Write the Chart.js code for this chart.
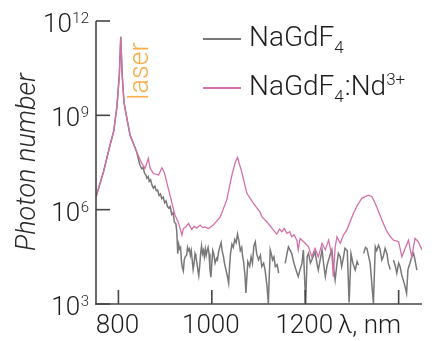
<!DOCTYPE html>
<html>
<head>
<meta charset="utf-8">
<script src="https://cdn.jsdelivr.net/npm/chart.js@4.4.0/dist/chart.umd.min.js"></script>
<style>
  html, body { margin: 0; padding: 0; background: #fff; }
  #wrap { width: 436px; height: 341px; position: relative; }
</style>
</head>
<body>
<div id="wrap"><canvas id="chart"></canvas></div>
<script>
// wavelength (nm) and log10(photon number)
const pinkNm = [752, 768, 782, 790, 797, 802, 805, 808, 812, 820, 825, 839, 850, 857, 864, 868, 875, 886, 893, 898,
  905, 914, 921, 928, 936, 939, 944, 950, 957, 962, 968, 975, 980, 985, 993, 1003, 1018, 1032, 1043, 1050, 1055, 1060, 1064,
  1075, 1089, 1103, 1107, 1118, 1125, 1132, 1139, 1145, 1150, 1155, 1161, 1167, 1171, 1176, 1182, 1185, 1189, 1193, 1200, 1207, 1214, 1221, 1228, 1236, 1243,
  1250, 1257, 1260, 1264, 1268, 1275, 1282, 1289, 1303, 1312, 1321, 1335, 1343, 1353, 1364, 1375, 1382, 1389, 1400, 1407,
  1414, 1421, 1428, 1435, 1442, 1450];
const pinkLog = [6.41, 7.2, 8.05, 8.5, 9.3, 10.3, 11.5, 10.3, 9.4, 8.75, 8.37, 7.84, 7.47, 7.31, 7.63, 7.31, 7.15, 7.1, 7.33, 7.2,
  6.78, 6.25, 5.83, 5.61, 5.19, 5.4, 5.45, 5.56, 5.37, 5.47, 5.42, 5.51, 5.43, 5.45, 5.4, 5.51, 5.77, 6.31, 7.1, 7.5, 7.66, 7.4, 7.2,
  6.52, 6.2, 5.93, 5.78, 5.61, 5.48, 5.35, 5.22, 5.38, 5.3, 5.4, 5.25, 5.3, 5.14, 5.2, 5.03, 4.72, 5.08, 5.03, 4.93, 4.82, 4.5, 4.77, 4.5, 4.93, 4.72,
  5.03, 4.55, 3.87, 4.8, 5.14, 4.93, 5.2, 5.35, 5.88, 6.15, 6.36, 6.46, 6.41, 6.09, 5.67, 5.3, 5.14, 5.03, 4.98, 4.5,
  4.77, 5.03, 4.5, 5.09, 4.98, 4.72];

const grayNm = [752, 768, 782, 790, 797, 802, 805, 808, 812, 820, 825, 839, 846, 850, 853, 856, 859, 861, 864, 866,
  869, 872, 875, 878, 881, 884, 887, 890, 893, 896, 899, 902, 905, 908, 911, 914, 917, 920, 923, 925,
  927, 929, 931, 933, 935, 937, 939, 941, 943, 946, 948, 950, 952, 954, 956, 958, 960, 962, 964, 966,
  968, 970, 972, 974, 976, 978, 980, 982, 984, 986, 988, 990, 992, 994, 996, 998, 1000, 1002, 1004, 1007,
  1010, 1012, 1015, 1018, 1020, 1022, 1025, 1027, 1030, 1033, 1036, 1038, 1040, 1043, 1046, 1049, 1052, 1055, 1058, 1061,
  1064, 1066, 1068, 1071, 1073, 1077, 1081, 1084, 1087, 1090, 1093, 1096, 1100, 1104, 1107, 1111, 1114, 1118, 1121, 1125,
  1128, 1130, 1133, 1136, 1140, 1143, 1150, 1157, 1161, 1164, 1168, 1171, 1175, 1178, 1182, 1185, 1189, 1193, 1196, 1201,
  1204, 1207, 1211, 1214, 1218, 1221, 1225, 1228, 1232, 1236, 1240, 1243, 1247, 1250, 1254, 1257, 1261, 1264, 1268, 1271,
  1275, 1278, 1282, 1285, 1290, 1294, 1298, 1302, 1307, 1311, 1314, 1318, 1325, 1329, 1332, 1336, 1339, 1346,
  1350, 1353, 1357, 1360, 1364, 1367, 1371, 1375, 1378, 1382, 1386, 1389, 1393, 1396, 1400, 1403, 1407, 1410, 1413, 1417,
  1420, 1424, 1428, 1432, 1435, 1439];
const grayLog = [6.41, 7.2, 8.05, 8.5, 9.3, 10.3, 11.5, 10.3, 9.4, 8.75, 8.37, 7.84, 7.42, 7.3, 7.35, 7.15, 7.1, 7.0, 7.05, 6.9,
  6.95, 6.78, 6.68, 6.75, 6.6, 6.62, 6.45, 6.5, 6.35, 6.4, 6.22, 6.28, 6.1, 6.05, 6.1, 5.85, 5.9, 5.6, 5.55, 5.3,
  4.6, 4.9, 4.75, 4.8, 4.35, 4.15, 4.05, 4.4, 4.5, 4.55, 4.8, 4.7, 4.75, 4.55, 4.7, 4.4, 4.1, 4.3, 4.6, 4.5,
  4.3, 4.1, 3.9, 4.2, 4.6, 4.85, 4.6, 4.7, 4.5, 4.75, 4.55, 4.7, 4.8, 4.6, 4.1, 3.85, 4.3, 4.7, 4.6, 4.3,
  4.45, 4.4, 4.7, 4.85, 4.95, 4.7, 4.5, 4.3, 4.1, 3.9, 3.66, 4.2, 4.6, 4.9, 4.8, 5.05, 4.95, 5.22, 5.0, 4.7,
  4.8, 4.5, 4.35, 3.9, 3.35, 4.35, 4.2, 4.5, 4.3, 4.85, 4.98, 4.6, 4.4, 4.55, 4.19, 4.3, 4.08, 3.6, 3.02, 4.72,
  4.55, 4.4, 4.5, 4.19, 4.25, 3.98, null, 4.29, 4.6, 4.82, 4.7, 4.61, 4.35, 4.19, 4.0, 3.87, 4.1, 4.29, 4.72, 3.02,
  4.5, 4.61, 4.3, 4.4, 4.55, 4.66, 4.3, 4.08, 4.4, 4.72, 4.2, 3.87, 4.25, 4.4, 4.6, 4.72, 4.1, 3.76, 4.3, 4.61,
  4.5, 4.19, 4.5, 4.77, 4.7, 3.05, 4.6, 4.3, 4.08, 4.35, 4.24, null, 4.61, 4.8, 4.77, 4.5, 4.29, 3.02,
  4.82, 4.7, 4.87, 4.75, 4.4, 4.5, 4.77, 4.6, 4.29, 4.1, null, 4.4, 4.2, 3.98, 4.3, 4.19, 3.9, 3.76, 3.6, 3.34,
  4.1, 4.29, 4.5, 4.61, 4.4, 4.08];

const xTicks = [800, 1000, 1200, 1400];
const xTickLabels = ['800', '1000', '1200', ''];
const yTicks = [1e3, 1e6, 1e9, 1e12];
const yTickExp = ['3', '6', '9', '12'];

const GRAY = '#787878';
const PINK = '#d56fa9';
const FONT = 'Roboto, "Liberation Sans", sans-serif';

function toPoints(nm, lg) {
  return nm.map((n, i) => ({ x: n, y: lg[i] == null ? null : Math.pow(10, lg[i]) }));
}

// axes, inward ticks, labels, legend and annotations
const decor = {
  id: 'decor',
  afterDraw(chart) {
    const { ctx, scales: { x, y } } = chart;
    const line = (x1, y1, x2, y2) => { ctx.beginPath(); ctx.moveTo(x1, y1); ctx.lineTo(x2, y2); ctx.stroke(); };
    ctx.save();
    ctx.strokeStyle = '#444';
    ctx.lineWidth = 1.6;
    ctx.lineCap = 'butt';
    line(x.left, y.top, x.left, y.bottom + 0.8);
    line(x.left - 0.8, y.bottom, x.right, y.bottom);
    xTicks.forEach(v => { const px = x.getPixelForValue(v); line(px, y.bottom, px, y.bottom - 14); });
    yTicks.forEach(v => { const py = y.getPixelForValue(v); line(x.left, py, x.left + 14, py); });

    ctx.fillStyle = '#1c1c1c';
    ctx.textBaseline = 'alphabetic';
    ctx.font = '300 26px ' + FONT;
    ctx.textAlign = 'center';
    xTicks.forEach((v, i) => ctx.fillText(xTickLabels[i], x.getPixelForValue(v) - 1, 333));
    ctx.textAlign = 'left';
    ctx.fillText('λ, nm', 338, 333);

    yTicks.forEach((v, i) => {
      const py = y.getPixelForValue(v);
      ctx.textAlign = 'right';
      ctx.font = '300 15px ' + FONT;
      const ew = ctx.measureText(yTickExp[i]).width;
      ctx.fillText(yTickExp[i], 89, py + 2);
      ctx.font = '300 26px ' + FONT;
      ctx.fillText('10', 89 - ew - 0.5, py + 11);
    });

    // y title
    ctx.save();
    ctx.fillStyle = '#2a2a2a';
    ctx.font = 'italic 300 27px ' + FONT;
    ctx.translate(35, 162);
    ctx.rotate(-Math.PI / 2);
    ctx.textAlign = 'center';
    ctx.fillText('Photon number', 0, 0);
    ctx.restore();

    // laser label
    ctx.save();
    ctx.fillStyle = '#f8ad48';
    ctx.font = '300 27px ' + FONT;
    ctx.translate(148, 71);
    ctx.rotate(-Math.PI / 2);
    ctx.textAlign = 'center';
    ctx.fillText('laser', 0, 0);
    ctx.restore();

    // legend
    ctx.lineWidth = 2;
    ctx.strokeStyle = GRAY;
    line(203, 39, 241, 39);
    ctx.strokeStyle = PINK;
    line(203, 88, 241, 88);
    ctx.fillStyle = '#1c1c1c';
    ctx.textAlign = 'left';
    const run = (parts, x0, base) => {
      let cx = x0;
      parts.forEach(([t, kind]) => {
        ctx.font = (kind ? '300 17px ' : '300 28px ') + FONT;
        const dy = kind === 'sub' ? 7 : kind === 'sup' ? -10 : 0;
        ctx.fillText(t, cx, base + dy);
        cx += ctx.measureText(t).width + (kind ? 1 : 0);
      });
    };
    run([['NaGdF'], ['4', 'sub']], 249, 46);
    run([['NaGdF'], ['4', 'sub'], [':Nd'], ['3+', 'sup']], 249, 95);
    ctx.restore();
  }
};

new Chart(document.getElementById('chart'), {
  type: 'line',
  data: {
    datasets: [
      { label: 'NaGdF4:Nd3+', data: toPoints(pinkNm, pinkLog), borderColor: PINK, borderWidth: 1.3 },
      { label: 'NaGdF4', data: toPoints(grayNm, grayLog), borderColor: GRAY, borderWidth: 1.5 }
    ]
  },
  options: {
    responsive: true,
    maintainAspectRatio: false,
    animation: false,
    spanGaps: false,
    elements: { point: { radius: 0 }, line: { tension: 0, fill: false } },
    layout: { padding: { top: 21, right: 14, left: 0, bottom: 0 } },
    plugins: { legend: { display: false }, tooltip: { enabled: false } },
    scales: {
      x: {
        type: 'linear', min: 752, max: 1450,
        grid: { display: false }, border: { display: false },
        ticks: { display: false },
        afterFit: s => { s.height = 37; }
      },
      y: {
        type: 'logarithmic', min: 1e3, max: 1e12,
        grid: { display: false }, border: { display: false },
        ticks: { display: false },
        afterFit: s => { s.width = 96; }
      }
    }
  },
  plugins: [decor]
});
</script>
</body>
</html>
